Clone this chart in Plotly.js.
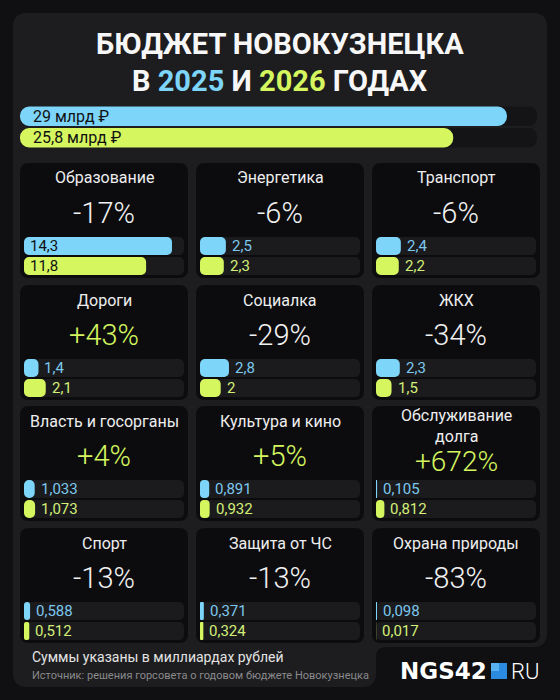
<!DOCTYPE html>
<html>
<head>
<meta charset="utf-8">
<script src="https://cdn.plot.ly/plotly-3.0.1.min.js"></script>
<style>html,body{margin:0;padding:0;background:#101012;}#chart{width:560px;height:700px;}</style>
</head>
<body>
<div id="chart"></div>
<script>
// ---- data ----
const years = ['2025', '2026'];
const totalValues = [29, 25.8];
const categories = ['Образование', 'Энергетика', 'Транспорт', 'Дороги', 'Социалка', 'ЖКХ',
  'Власть и госорганы', 'Культура и кино', 'Обслуживание\nдолга', 'Спорт', 'Защита от ЧС', 'Охрана природы'];
const values2025 = [14.3, 2.5, 2.4, 1.4, 2.8, 2.3, 1.033, 0.891, 0.105, 0.588, 0.371, 0.098];
const values2026 = [11.8, 2.3, 2.2, 2.1, 2, 1.5, 1.073, 0.932, 0.812, 0.512, 0.324, 0.017];
const changePct = [-17, -6, -6, 43, -29, -34, 4, 5, 672, -13, -13, -83];
const titleLine1 = 'БЮДЖЕТ НОВОКУЗНЕЦКА';
const titleLine2 = ['В ', '2025', ' И ', '2026', ' ГОДАХ'];
const footNote = 'Суммы указаны в миллиардах рублей';
const sourceNote = 'Источник: решения горсовета о годовом бюджете Новокузнецка';

// ---- style ----
const W = 560, H = 700;
const BLUE = '#7dd5fa', GREEN = '#d5f65f';
const BLUE_T = '#7cc8ee', GREEN_T = '#d3ef78';
const FONT = 'Roboto, "Noto Sans", sans-serif';
const CARD_MAX = 15.46, TOTAL_MAX = 30.79;
const px = x => x / W, py = y => 1 - y / H;
function rr(x0, y0, x1, y1, r) {
  return `M${px(x0 + r)},${py(y0)} L${px(x1 - r)},${py(y0)} Q${px(x1)},${py(y0)} ${px(x1)},${py(y0 + r)} ` +
    `L${px(x1)},${py(y1 - r)} Q${px(x1)},${py(y1)} ${px(x1 - r)},${py(y1)} L${px(x0 + r)},${py(y1)} ` +
    `Q${px(x0)},${py(y1)} ${px(x0)},${py(y1 - r)} L${px(x0)},${py(y0 + r)} Q${px(x0)},${py(y0)} ${px(x0 + r)},${py(y0)} Z`;
}
const fmt = v => String(v).replace('.', ',');

const shapes = [], annotations = [], traces = [];
const layout = {
  width: W, height: H, margin: {l: 0, r: 0, t: 0, b: 0},
  paper_bgcolor: '#101012', plot_bgcolor: 'rgba(0,0,0,0)',
  showlegend: false, barmode: 'overlay', font: {family: FONT},
  shapes, annotations
};

// main panel with footer tab
(function () {
  const x0 = 13, y0 = 13, x1 = 547, yb = 647, tx = 376, yf = 687, r = 14, f = 10;
  const p = `M${px(x0 + r)},${py(y0)} L${px(x1 - r)},${py(y0)} Q${px(x1)},${py(y0)} ${px(x1)},${py(y0 + r)} ` +
    `L${px(x1)},${py(yb - r)} Q${px(x1)},${py(yb)} ${px(x1 - r)},${py(yb)} L${px(tx + f)},${py(yb)} ` +
    `Q${px(tx)},${py(yb)} ${px(tx)},${py(yb + f)} L${px(tx)},${py(yf - r)} Q${px(tx)},${py(yf)} ${px(tx - r)},${py(yf)} ` +
    `L${px(x0 + r)},${py(yf)} Q${px(x0)},${py(yf)} ${px(x0)},${py(yf - r)} L${px(x0)},${py(y0 + r)} Q${px(x0)},${py(y0)} ${px(x0 + r)},${py(y0)} Z`;
  shapes.push({type: 'path', path: p, xref: 'paper', yref: 'paper', fillcolor: '#1d1d1f', line: {width: 0}, layer: 'below'});
})();

// title
annotations.push({xref: 'paper', yref: 'paper', x: 0.5, y: py(44), xanchor: 'center', yanchor: 'middle', showarrow: false,
  text: titleLine1, font: {family: FONT, size: 29, weight: 700, color: '#f7f7f7'}});
annotations.push({xref: 'paper', yref: 'paper', x: 0.5, y: py(81), xanchor: 'center', yanchor: 'middle', showarrow: false,
  text: titleLine2[0] + `<span style="color:${BLUE}">${titleLine2[1]}</span>` + titleLine2[2] +
    `<span style="color:${GREEN}">${titleLine2[3]}</span>` + titleLine2[4],
  font: {family: FONT, size: 29, weight: 700, color: '#f7f7f7'}});

function addBars(idx, dom, vals, maxV, radius, trackColor) {
  const sfx = idx === 1 ? '' : String(idx);
  const xr = 'x' + sfx, yr = 'y' + sfx;
  const slot = (dom.y1 - dom.y0) / 2;
  layout['xaxis' + sfx] = {domain: [px(dom.x0), px(dom.x1)], range: [0, maxV], visible: false, fixedrange: true};
  layout['yaxis' + sfx] = {domain: [py(dom.y1), py(dom.y0)], range: [1.5, -0.5], visible: false, fixedrange: true};
  layout['bargap'] = dom.gap / slot;
  const thick = slot - dom.gap;
  // tracks
  for (let k = 0; k < 2; k++) {
    const c = dom.y0 + slot * (k + 0.5);
    shapes.push({type: 'path', xref: 'paper', yref: 'paper', layer: 'below', line: {width: 0}, fillcolor: trackColor,
      path: rr(dom.x0, c - thick / 2, dom.x1, c + thick / 2, radius)});
  }
  traces.push({type: 'bar', orientation: 'h', y: years.map((_, k) => k), x: vals, base: vals.map(() => 0),
    xaxis: xr, yaxis: yr, width: 1 - dom.gap / slot,
    marker: {color: [BLUE, GREEN], cornerradius: radius, line: {width: 0}}, hoverinfo: 'skip'});
  return {xr, yr};
}

// totals
(function () {
  const ax = addBars(13, {x0: 20, x1: 537, y0: 105.5, y1: 148.5, gap: 2}, totalValues, TOTAL_MAX, 9.5, '#141416');
  totalValues.forEach((v, k) => annotations.push({xref: ax.xr, yref: ax.yr, x: 0, y: k, xanchor: 'left', yanchor: 'middle',
    xshift: 11, showarrow: false, text: fmt(v) + ' млрд ₽', font: {family: FONT, size: 16, color: '#111'}}));
})();

// cards
const cardLeft = [20, 196, 372], rowTop = [163, 285, 406, 528], CW = 168, CH = 115;
categories.forEach((cat, i) => {
  const L = cardLeft[i % 3], T = rowTop[Math.floor(i / 3)];
  shapes.push({type: 'path', xref: 'paper', yref: 'paper', layer: 'below', line: {width: 0}, fillcolor: '#0c0c0e',
    path: rr(L, T, L + CW, T + CH, 9)});
  const twoLine = cat.includes('\n');
  annotations.push({xref: 'paper', yref: 'paper', x: px(L + CW / 2), y: py(T + (twoLine ? 20 : 15)), xanchor: 'center', yanchor: 'middle',
    showarrow: false, text: cat.replace('\n', '<br>'), font: {family: FONT, size: 16, color: '#eeeeee'}});
  const p = changePct[i];
  annotations.push({xref: 'paper', yref: 'paper', x: px(L + CW / 2), y: py(T + (twoLine ? 55 : 50)), xanchor: 'center', yanchor: 'middle',
    showarrow: false, text: (p > 0 ? '+' : '-') + Math.abs(p) + '%',
    font: {family: FONT, size: twoLine ? 28 : 29, weight: 300, color: p > 0 ? GREEN : '#f2f2f2'}});
  const vals = [values2025[i], values2026[i]];
  const ax = addBars(i + 1, {x0: L + 4, x1: L + 164, y0: T + 73, y1: T + 113, gap: 2}, vals, CARD_MAX, 5.5, '#1b1b1d');
  vals.forEach((v, k) => {
    const inside = v >= 10;
    annotations.push({xref: ax.xr, yref: ax.yr, x: inside ? 0 : v, y: k, xanchor: 'left', yanchor: 'middle',
      xshift: 4, showarrow: false, text: fmt(v),
      font: {family: FONT, size: 15, color: inside ? '#111' : (k === 0 ? BLUE_T : GREEN_T)}});
  });
});

// footer
annotations.push({xref: 'paper', yref: 'paper', x: px(30), y: py(657), xanchor: 'left', yanchor: 'middle', showarrow: false,
  text: footNote, font: {family: FONT, size: 14, color: '#e4e4e4'}});
annotations.push({xref: 'paper', yref: 'paper', x: px(30), y: py(675), xanchor: 'left', yanchor: 'middle', showarrow: false,
  text: sourceNote, font: {family: FONT, size: 11, color: '#8a8a8c'}});
// logo
annotations.push({xref: 'paper', yref: 'paper', x: px(489), y: py(671), xanchor: 'right', yanchor: 'middle', showarrow: false,
  text: 'NGS42', font: {family: '"DejaVu Sans", sans-serif', size: 23, weight: 900, color: '#ffffff'}});
shapes.push({type: 'rect', xref: 'paper', yref: 'paper', x0: px(491), x1: px(507), y0: py(679), y1: py(663), fillcolor: '#2a8be0', line: {width: 0}});
shapes.push({type: 'rect', xref: 'paper', yref: 'paper', x0: px(491), x1: px(499), y0: py(671), y1: py(663), fillcolor: '#58b2f2', line: {width: 0}});
annotations.push({xref: 'paper', yref: 'paper', x: px(509), y: py(671), xanchor: 'left', yanchor: 'middle', showarrow: false,
  text: 'RU', font: {family: FONT, size: 22, weight: 300, color: '#ffffff'}});

Plotly.newPlot('chart', traces, layout, {staticPlot: true, displayModeBar: false});
</script>
</body>
</html>
